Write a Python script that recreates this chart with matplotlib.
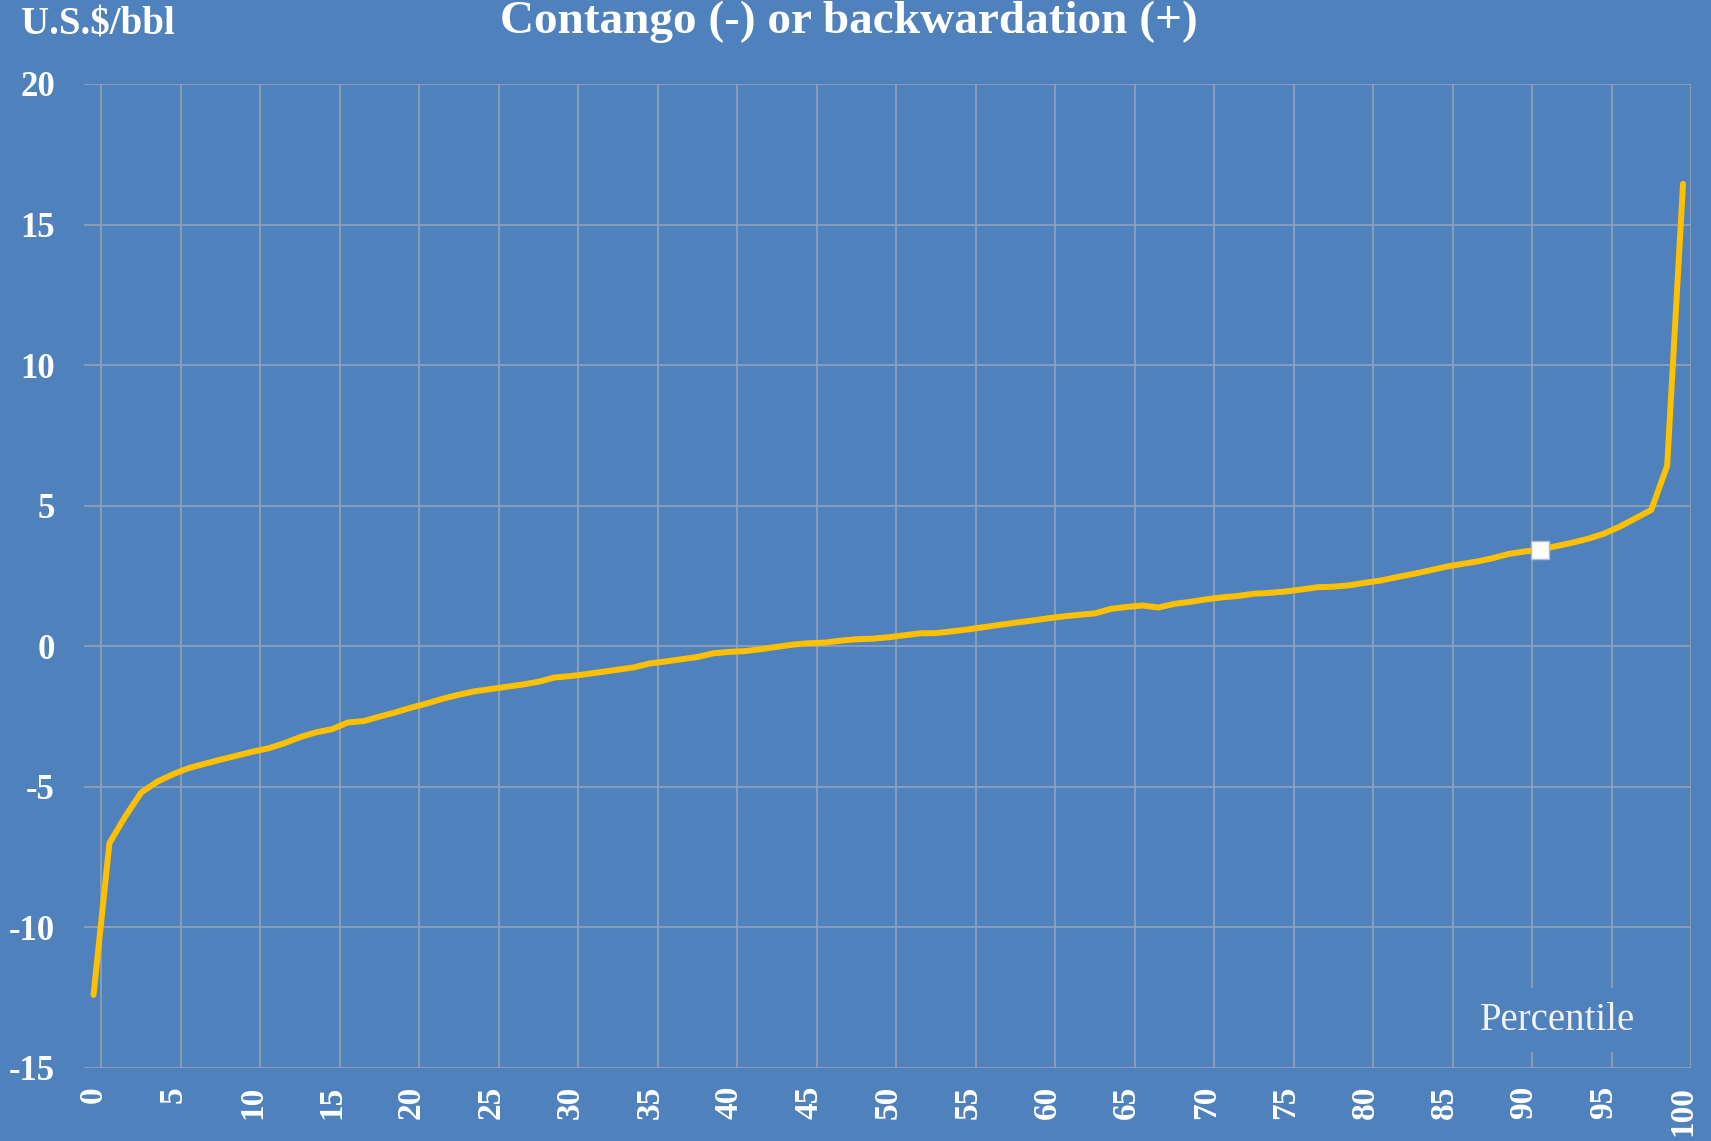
import matplotlib
matplotlib.use("Agg")
import matplotlib.pyplot as plt
import numpy as np

# ---- data ----
percentiles = list(range(0, 101))
spread = [
    -12.40, -7.00, -6.05, -5.20, -4.82, -4.55, -4.33, -4.18, -4.03, -3.89,
    -3.75, -3.63, -3.45, -3.23, -3.06, -2.95, -2.71, -2.66, -2.50, -2.35,
    -2.18, -2.03, -1.86, -1.72, -1.60, -1.52, -1.44, -1.36, -1.26, -1.11,
    -1.06, -0.99, -0.91, -0.83, -0.75, -0.61, -0.54, -0.46, -0.38, -0.25,
    -0.20, -0.17, -0.10, -0.02, 0.06, 0.11, 0.13, 0.20, 0.25, 0.27,
    0.32, 0.39, 0.46, 0.47, 0.53, 0.60, 0.68, 0.76, 0.84, 0.91,
    0.99, 1.06, 1.12, 1.17, 1.33, 1.40, 1.45, 1.38, 1.51, 1.58,
    1.67, 1.74, 1.79, 1.87, 1.90, 1.95, 2.02, 2.10, 2.12, 2.17,
    2.26, 2.34, 2.46, 2.57, 2.69, 2.82, 2.92, 3.01, 3.13, 3.28,
    3.37, 3.44, 3.56, 3.68, 3.82, 4.00, 4.25, 4.55, 4.85, 6.42,
    16.45,
]
current_index = 91
x_tick_labels = [str(v) for v in range(0, 101, 5)]
y_ticks = [-15, -10, -5, 0, 5, 10, 15, 20]

title = "Contango (-) or backwardation (+)"
unit_label = "U.S.$/bbl"
x_name = "Percentile"

# ---- style ----
BG = "#4F81BD"
LINE = "#FFC000"
GRID = "#93A2B6"
WHITE = "#FFFFFF"
SERIF = ["Liberation Serif", "DejaVu Serif"]

fig = plt.figure(figsize=(17.11, 11.41), dpi=100, facecolor=BG)
top_px, bot_px = 84, 1068
ax = fig.add_axes([84 / 1711, 1 - bot_px / 1141, (1691 - 84) / 1711, (bot_px - top_px) / 1141])
ax.set_facecolor(BG)

xpos = np.array(percentiles) - 0.5
ax.plot(xpos, spread, color=LINE, lw=4.3, solid_joinstyle="round", solid_capstyle="round", zorder=3)
ax.plot([xpos[current_index]], [spread[current_index]], marker="s", ms=13.5,
        mfc=WHITE, mec="#A9BCDC", mew=1.0, zorder=4)

ax.set_xlim(-1.1, 100)
ax.set_ylim(-15, 20)

# gridlines at major ticks, labels at minor ticks (category centres)
ax.set_xticks(np.arange(0, 101, 5))
ax.set_xticklabels([])
ax.set_xticks(np.arange(0, 101, 5) - 0.5, minor=True)
ax.set_xticklabels(x_tick_labels, minor=True, rotation=90, fontfamily=SERIF,
                   fontsize=24, fontweight="bold", color=WHITE)
ax.set_yticks(y_ticks)
ax.set_yticklabels([str(v) for v in y_ticks], fontfamily=SERIF, fontsize=25,
                   fontweight="bold", color=WHITE)
ax.tick_params(axis="x", which="both", length=0, pad=13)
ax.tick_params(axis="y", which="both", length=0, pad=21)
ax.grid(True, which="major", color=GRID, lw=1.2)
ax.set_axisbelow(True)
for s in ax.spines.values():
    s.set_visible(False)

ax.text(91.6, -13.3, x_name, ha="center", va="center", fontfamily=SERIF,
        fontsize=28, color="#F2F2F2", zorder=5,
        bbox=dict(boxstyle="square,pad=0.34", fc=BG, ec="none"))

fig.text(849 / 1711, 1 - 22 / 1141, title, ha="center", va="center",
         fontfamily=SERIF, fontsize=34, fontweight="bold", color=WHITE)
fig.text(21 / 1711, 1 - 25 / 1141, unit_label, ha="left", va="center",
         fontfamily=SERIF, fontsize=28, fontweight="bold", color=WHITE)

fig.savefig("out.png", dpi=100, facecolor=BG)
